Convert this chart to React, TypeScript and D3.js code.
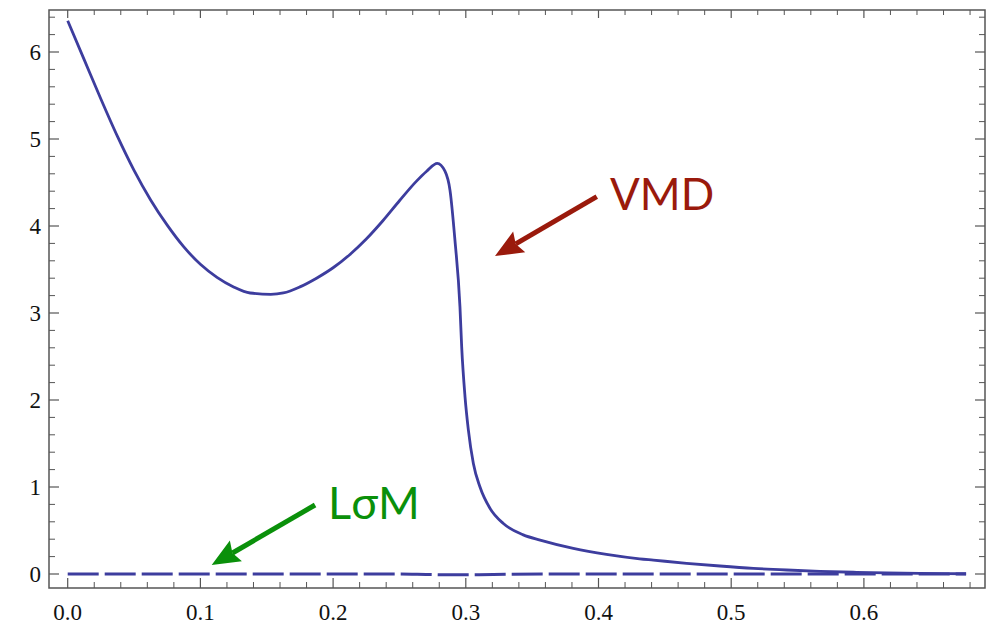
import React from "react";
import * as d3 from "d3";

const vmdX = [0, 0.0125, 0.025, 0.0375, 0.05, 0.0625, 0.075, 0.0875, 0.1, 0.1125, 0.125, 0.1375, 0.153, 0.1625, 0.175, 0.1875, 0.2, 0.2125, 0.225, 0.2375, 0.25, 0.2625, 0.2705, 0.2785, 0.2843, 0.2881, 0.2918, 0.2956, 0.2969, 0.2994, 0.3019, 0.3057, 0.3107, 0.3182, 0.3283, 0.3433, 0.356, 0.381, 0.406, 0.431, 0.4413, 0.4664, 0.4915, 0.5167, 0.5418, 0.567, 0.592, 0.617, 0.642, 0.677];
const vmdY = [6.36, 5.91, 5.46, 5.03, 4.64, 4.3, 4.01, 3.76, 3.56, 3.41, 3.3, 3.23, 3.215, 3.23, 3.3, 3.4, 3.52, 3.67, 3.85, 4.06, 4.29, 4.51, 4.63, 4.72, 4.63, 4.41, 3.84, 3.07, 2.61, 2.04, 1.66, 1.27, 1.0, 0.755, 0.58, 0.45, 0.39, 0.295, 0.226, 0.175, 0.16, 0.123, 0.092, 0.065, 0.046, 0.031, 0.02, 0.012, 0.008, 0.003];

const lomX = [0, 0.1, 0.2, 0.25, 0.27, 0.29, 0.31, 0.33, 0.36, 0.4, 0.5, 0.6, 0.677];
const lomY = [0, 0, 0, 0, -0.005, -0.01, -0.008, -0.003, 0, 0, 0, 0, 0];

const xTicks = [0, 0.1, 0.2, 0.3, 0.4, 0.5, 0.6];
const xTickLabels = ["0.0", "0.1", "0.2", "0.3", "0.4", "0.5", "0.6"];
const yTicks = [0, 1, 2, 3, 4, 5, 6];
const yTickLabels = ["0", "1", "2", "3", "4", "5", "6"];

const annotations = [
  { label: "VMD", color: "#9a1a0c", tail: [0.3987, 4.337], tip: [0.322, 3.655], text: [0.4087, 4.184], size: 44 },
  { label: "L\u03c3M", color: "#0a900a", tail: [0.1864, 0.793], tip: [0.1085, 0.103], text: [0.1962, 0.629], size: 45 },
];

const W = 999, H = 624;
const left = 49, right = 985, top = 10, bottom = 588;

export default function App() {
  const x = d3.scaleLinear().domain([0, 0.1]).range([67.7, 200.4]);
  const y = d3.scaleLinear().domain([0, 6]).range([574, 52]);

  const minorX = d3.range(0, 0.69, 0.02).filter((v) => Math.abs(v * 10 - Math.round(v * 10)) > 1e-6);
  const minorY = d3.range(-0.2, 6.5, 0.2).filter((v) => Math.abs(v - Math.round(v)) > 1e-6 && y(v) > top && y(v) < bottom);

  const line = d3.line<number>().x((_, i) => x(vmdX[i])).y((d) => y(d)).curve(d3.curveMonotoneX);
  const line2 = d3.line<number>().x((_, i) => x(lomX[i])).y((d) => y(d)).curve(d3.curveMonotoneX);

  const axisColor = "#555";
  const curveColor = "#3d3d9e";
  const serifStyle = { fontFamily: '"Liberation Serif", "DejaVu Serif", "Times New Roman", Times, serif' };

  return (
    <svg width={W} height={H} style={{ position: "absolute", left: 0, top: 0, background: "#fff" }}>
      <rect x={left} y={top} width={right - left} height={bottom - top} fill="none" stroke={axisColor} strokeWidth={1.5} />
      {xTicks.map((t) => (
        <g key={"xt" + t}>
          <line x1={x(t)} x2={x(t)} y1={bottom} y2={bottom - 10} stroke={axisColor} strokeWidth={1.2} />
          <line x1={x(t)} x2={x(t)} y1={top} y2={top + 8} stroke={axisColor} strokeWidth={1.2} />
        </g>
      ))}
      {minorX.map((t) => (
        <g key={"xm" + t}>
          <line x1={x(t)} x2={x(t)} y1={bottom} y2={bottom - 6} stroke={axisColor} strokeWidth={1} />
          <line x1={x(t)} x2={x(t)} y1={top} y2={top + 5} stroke={axisColor} strokeWidth={1} />
        </g>
      ))}
      {yTicks.map((t) => (
        <g key={"yt" + t}>
          <line x1={left} x2={left + 10} y1={y(t)} y2={y(t)} stroke={axisColor} strokeWidth={1.2} />
          <line x1={right} x2={right - 10} y1={y(t)} y2={y(t)} stroke={axisColor} strokeWidth={1.2} />
        </g>
      ))}
      {minorY.map((t) => (
        <g key={"ym" + t}>
          <line x1={left} x2={left + 6} y1={y(t)} y2={y(t)} stroke={axisColor} strokeWidth={1} />
          <line x1={right} x2={right - 6} y1={y(t)} y2={y(t)} stroke={axisColor} strokeWidth={1} />
        </g>
      ))}
      {xTicks.map((t, i) => (
        <text key={"xl" + t} x={x(t)} y={620} textAnchor="middle" style={serifStyle} fontSize={23} fill="#111">
          {xTickLabels[i]}
        </text>
      ))}
      {yTicks.map((t, i) => (
        <text key={"yl" + t} x={41} y={y(t) + 8} textAnchor="end" style={serifStyle} fontSize={23} fill="#111">
          {yTickLabels[i]}
        </text>
      ))}
      <path d={line2(lomY) || ""} fill="none" stroke={curveColor} strokeWidth={3} strokeDasharray="31 6" />
      <path d={line(vmdY) || ""} fill="none" stroke={curveColor} strokeWidth={2.8} strokeLinejoin="round" />
      {annotations.map((a) => {
        const tx = x(a.tip[0]), ty = y(a.tip[1]);
        const sx = x(a.tail[0]), sy = y(a.tail[1]);
        const ang = Math.atan2(ty - sy, tx - sx);
        const hl = 28, hw = 12;
        const bx = tx - hl * Math.cos(ang), by = ty - hl * Math.sin(ang);
        const px = -Math.sin(ang), py = Math.cos(ang);
        const lx = tx - (hl - 4) * Math.cos(ang), ly = ty - (hl - 4) * Math.sin(ang);
        return (
          <g key={a.label}>
            <line x1={sx} y1={sy} x2={lx} y2={ly} stroke={a.color} strokeWidth={5} />
            <polygon
              points={`${tx},${ty} ${bx + hw * px},${by + hw * py} ${bx + 4 * Math.cos(ang)},${by + 4 * Math.sin(ang)} ${bx - hw * px},${by - hw * py}`}
              fill={a.color}
            />
            <text x={x(a.text[0])} y={y(a.text[1])} fill={a.color} fontFamily="Lato, 'Open Sans', sans-serif" fontSize={a.size}>
              {a.label}
            </text>
          </g>
        );
      })}
    </svg>
  );
}
